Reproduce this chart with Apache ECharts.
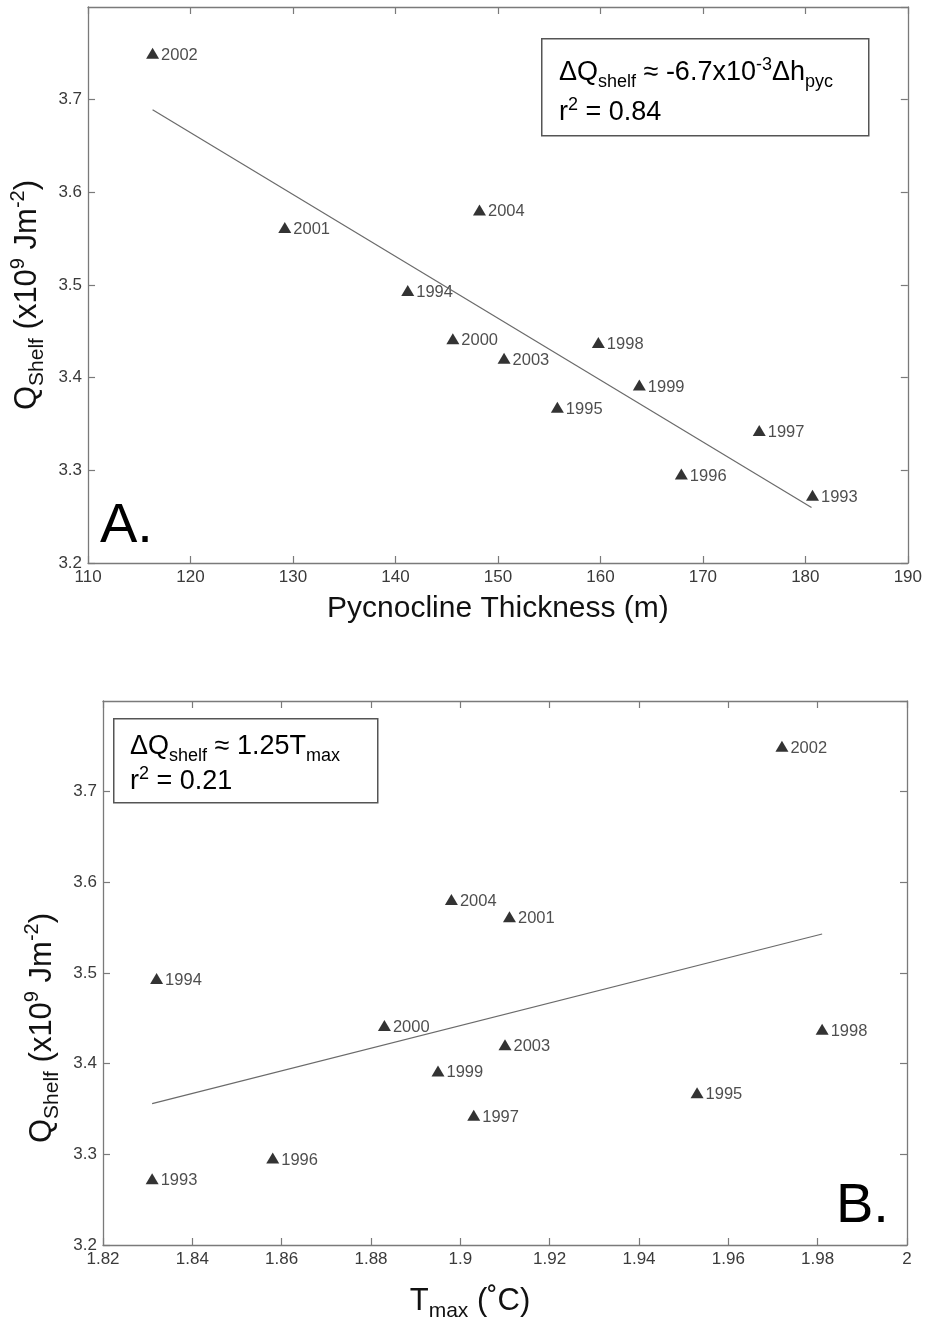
<!DOCTYPE html>
<html>
<head>
<meta charset="utf-8">
<script src="https://cdn.jsdelivr.net/npm/echarts@6/dist/echarts.min.js"></script>
<style>
  html, body { margin: 0; padding: 0; background: #fff; }
  #main { width: 925px; height: 1323px; }
</style>
</head>
<body>
<div id="main"></div>
<script>
// data
const years = ['1993', '1994', '1995', '1996', '1997', '1998', '1999', '2000', '2001', '2002', '2003', '2004'];
const qShelf = [3.273, 3.494, 3.368, 3.296, 3.343, 3.438, 3.392, 3.442, 3.562, 3.750, 3.421, 3.581];
const pycThickness = [180.7, 141.2, 155.8, 167.9, 175.5, 159.8, 163.8, 145.6, 129.2, 116.3, 150.6, 148.2];
const tMax = [1.831, 1.832, 1.953, 1.858, 1.903, 1.981, 1.895, 1.883, 1.911, 1.972, 1.910, 1.898];

// regression lines (end points)
const fitPycX = [116.3, 180.6];
const fitPycY = [3.689, 3.260];
const fitTX = [1.831, 1.981];
const fitTY = [3.356, 3.543];

// axis ranges [min, max, step]
const pycAxis = [110, 190, 10];
const tAxis = [1.82, 2.0, 0.02];
const qAxis = [3.2, 3.8, 0.1];

const FONT = "'Liberation Sans', Arial, sans-serif";
const AXIS_COLOR = '#7a7a7a';

const chart = echarts.init(document.getElementById('main'));

function axis(gridIndex, range, position, showLabel, fmt) {
  return {
    type: 'value',
    gridIndex: gridIndex,
    position: position,
    min: range[0],
    max: range[1],
    interval: range[2],
    splitLine: { show: false },
    axisLine: { show: true, onZero: false, lineStyle: { color: AXIS_COLOR, width: 1.3 } },
    axisTick: { show: true, inside: true, length: 7, lineStyle: { color: AXIS_COLOR, width: 1.2 } },
    axisLabel: {
      show: showLabel,
      formatter: fmt,
      color: '#3a3a3a',
      fontFamily: FONT,
      fontSize: 17,
      margin: 6
    }
  };
}

function pairs(xs, ys) {
  return xs.map((x, i) => ({ value: [x, ys[i]], name: years[i] }));
}

const subStyle = { fontSize: 18, fontFamily: FONT, color: '#111', padding: [19, 0, 0, 0] };
const supStyle = { fontSize: 18, fontFamily: FONT, color: '#111', padding: [0, 0, 15, 0] };
const mainStyle = { fontSize: 27, fontFamily: FONT, color: '#111', lineHeight: 40 };

const nameRich = {
  m: { fontSize: 31, fontFamily: FONT, color: '#111', lineHeight: 40 },
  sb: { fontSize: 21, fontFamily: FONT, color: '#111', padding: [20, 0, 0, 0] },
  sp: { fontSize: 20, fontFamily: FONT, color: '#111', padding: [0, 0, 18, 0] }
};
const yName = '{m|Q}{sb|Shelf}{m| (x10}{sp|9}{m| Jm}{sp|-2}{m|)}';

const labelStyle = {
  show: true,
  position: 'right',
  distance: 2,
  offset: [0, 2],
  formatter: '{b}',
  color: '#222',
  fontFamily: FONT,
  fontSize: 16.5
};

const fmtQ = v => v.toFixed(1);
const fmtPyc = v => String(Math.round(v));
const fmtT = v => String(+v.toFixed(2));

const yA = axis(0, qAxis, 'left', true, fmtQ);
yA.axisLabel.showMaxLabel = false;
Object.assign(yA, {
  name: yName, nameLocation: 'middle', nameRotate: 90, nameGap: 32,
  nameTextStyle: { rich: nameRich, padding: [0, 20, 0, 0] }
});
const yB = axis(1, qAxis, 'left', true, fmtQ);
yB.axisLabel.showMaxLabel = false;
Object.assign(yB, {
  name: yName, nameLocation: 'middle', nameRotate: 90, nameGap: 38,
  nameTextStyle: { rich: nameRich, padding: [0, 110, 0, 0] }
});

const xA = axis(0, pycAxis, 'bottom', true, fmtPyc);
Object.assign(xA, {
  name: 'Pycnocline Thickness (m)', nameLocation: 'middle', nameGap: 31,
  nameTextStyle: { fontSize: 30, fontFamily: FONT, color: '#111' }
});
const xB = axis(1, tAxis, 'bottom', true, fmtT);
Object.assign(xB, {
  name: '{m|T}{sb|max}{m| (˚C)}', nameLocation: 'middle', nameGap: 36,
  nameTextStyle: { rich: nameRich, padding: [0, 70, 0, 0] }
});

const option = {
  animation: false,
  backgroundColor: '#fff',
  grid: [
    { left: 87, top: 7, width: 821, height: 556 },
    { left: 103, top: 701, width: 804, height: 544 }
  ],
  xAxis: [xA, axis(0, pycAxis, 'top', false), xB, axis(1, tAxis, 'top', false)],
  yAxis: [yA, axis(0, qAxis, 'right', false), yB, axis(1, qAxis, 'right', false)],
  series: [
    {
      type: 'line', xAxisIndex: 0, yAxisIndex: 0,
      data: [[fitPycX[0], fitPycY[0]], [fitPycX[1], fitPycY[1]]],
      symbol: 'none', silent: true,
      lineStyle: { color: '#6a6a6a', width: 1.2 }
    },
    {
      type: 'scatter', xAxisIndex: 0, yAxisIndex: 0,
      data: pairs(pycThickness, qShelf),
      symbol: 'triangle', symbolSize: [13, 11],
      itemStyle: { color: '#000' },
      label: labelStyle
    },
    {
      type: 'line', xAxisIndex: 2, yAxisIndex: 2,
      data: [[fitTX[0], fitTY[0]], [fitTX[1], fitTY[1]]],
      symbol: 'none', silent: true,
      lineStyle: { color: '#6a6a6a', width: 1.2 }
    },
    {
      type: 'scatter', xAxisIndex: 2, yAxisIndex: 2,
      data: pairs(tMax, qShelf),
      symbol: 'triangle', symbolSize: [13, 11],
      itemStyle: { color: '#000' },
      label: labelStyle
    }
  ],
  graphic: [
    {
      type: 'rect', left: 541, top: 38,
      shape: { width: 327, height: 97 },
      style: { fill: '#fff', stroke: '#555', lineWidth: 1.5 }
    },
    {
      type: 'text', left: 559, top: 56,
      style: {
        text: '{m|ΔQ}{sb|shelf}{m| ≈ -6.7x10}{sp|-3}{m|Δh}{sb|pyc}\n{m|r}{sp|2}{m| = 0.84}',
        rich: { m: mainStyle, sb: subStyle, sp: supStyle }
      }
    },
    {
      type: 'rect', left: 113, top: 718,
      shape: { width: 264, height: 84 },
      style: { fill: '#fff', stroke: '#555', lineWidth: 1.5 }
    },
    {
      type: 'text', left: 130, top: 733,
      style: {
        text: '{m|ΔQ}{sb|shelf}{m| ≈ 1.25T}{sb|max}\n{m|r}{sp|2}{m| = 0.21}',
        rich: { m: Object.assign({}, mainStyle, { lineHeight: 33 }), sb: subStyle, sp: supStyle }
      }
    },
    {
      type: 'text', left: 100, top: 499,
      style: { text: 'A.', fontSize: 56, fontFamily: FONT, fill: '#000' }
    },
    {
      type: 'text', left: 836, top: 1179,
      style: { text: 'B.', fontSize: 56, fontFamily: FONT, fill: '#000' }
    }
  ]
};

chart.setOption(option);
</script>
</body>
</html>
